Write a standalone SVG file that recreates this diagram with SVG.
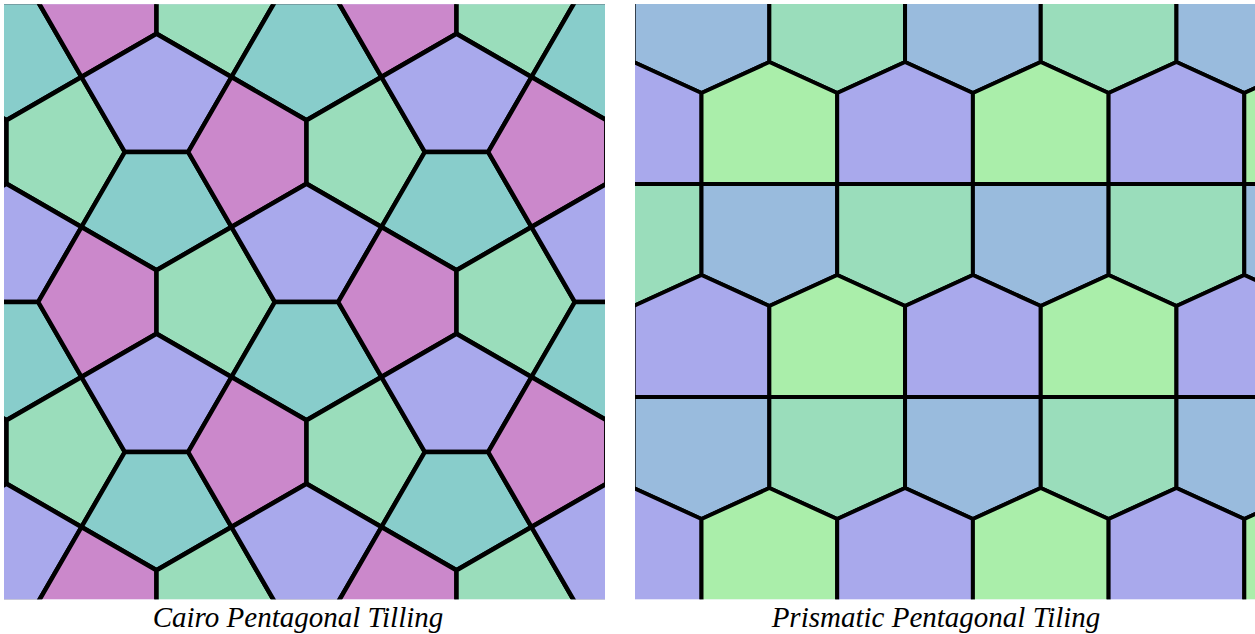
<svg xmlns="http://www.w3.org/2000/svg" xmlns:xlink="http://www.w3.org/1999/xlink" width="1255" height="634" viewBox="0 0 1255 634">
<style>
.t{stroke:#000;stroke-width:4.5;stroke-linejoin:round}
.p{stroke:#000;stroke-width:4;stroke-linejoin:round}
.lav{fill:#A9A9EC}.teal{fill:#88CDCB}.pink{fill:#CB88CB}.grn{fill:#9ADDBB}
.blu{fill:#99BBDD}.lgr{fill:#AAEEAA}
.cap{font-family:"Liberation Serif","Times New Roman",serif;font-style:italic;font-size:29px;fill:#000;text-anchor:middle}
</style>
<defs>
<clipPath id="clipL"><rect x="4" y="4.3" width="601" height="595"/></clipPath>
<clipPath id="clipR"><rect x="635" y="4" width="620" height="595.3"/></clipPath>
<polygon id="cLav" class="t lav" points="-31.7,0 31.7,0 75,-75 0,-118.3 -75,-75"/>
<polygon id="cTeal" class="t teal" points="-31.7,0 31.7,0 75,75 0,118.3 -75,75"/>
<polygon id="cPink" class="t pink" points="0,-31.7 0,31.7 -75,75 -118.3,0 -75,-75"/>
<polygon id="cGrn" class="t grn" points="0,-31.7 0,31.7 75,75 118.3,0 75,-75"/>
<polygon id="uBlu" class="p blu" points="0,0 135.7,0 135.7,91 67.85,122 0,91"/>
<polygon id="uGrn" class="p grn" points="0,0 135.7,0 135.7,91 67.85,122 0,91"/>
<polygon id="lLav" class="p lav" points="0,122 67.85,91 135.7,122 135.7,213 0,213"/>
<polygon id="lLgr" class="p lgr" points="0,122 67.85,91 135.7,122 135.7,213 0,213"/>
</defs>
<rect width="1255" height="634" fill="#fff"/>
<g id="cairo" clip-path="url(#clipL)">
<rect x="4" y="4.3" width="601" height="595" fill="#A9A9EC"/>
<!-- i=0 -->
<use xlink:href="#cLav" x="6.5" y="2"/><use xlink:href="#cTeal" x="6.5" y="2"/>
<use xlink:href="#cPink" x="6.5" y="152"/><use xlink:href="#cGrn" x="6.5" y="152"/>
<use xlink:href="#cLav" x="6.5" y="302"/><use xlink:href="#cTeal" x="6.5" y="302"/>
<use xlink:href="#cPink" x="6.5" y="452"/><use xlink:href="#cGrn" x="6.5" y="452"/>
<use xlink:href="#cLav" x="6.5" y="602"/><use xlink:href="#cTeal" x="6.5" y="602"/>
<!-- i=1 -->
<use xlink:href="#cPink" x="156.5" y="2"/><use xlink:href="#cGrn" x="156.5" y="2"/>
<use xlink:href="#cLav" x="156.5" y="152"/><use xlink:href="#cTeal" x="156.5" y="152"/>
<use xlink:href="#cPink" x="156.5" y="302"/><use xlink:href="#cGrn" x="156.5" y="302"/>
<use xlink:href="#cLav" x="156.5" y="452"/><use xlink:href="#cTeal" x="156.5" y="452"/>
<use xlink:href="#cPink" x="156.5" y="602"/><use xlink:href="#cGrn" x="156.5" y="602"/>
<!-- i=2 -->
<use xlink:href="#cLav" x="306.5" y="2"/><use xlink:href="#cTeal" x="306.5" y="2"/>
<use xlink:href="#cPink" x="306.5" y="152"/><use xlink:href="#cGrn" x="306.5" y="152"/>
<use xlink:href="#cLav" x="306.5" y="302"/><use xlink:href="#cTeal" x="306.5" y="302"/>
<use xlink:href="#cPink" x="306.5" y="452"/><use xlink:href="#cGrn" x="306.5" y="452"/>
<use xlink:href="#cLav" x="306.5" y="602"/><use xlink:href="#cTeal" x="306.5" y="602"/>
<!-- i=3 -->
<use xlink:href="#cPink" x="456.5" y="2"/><use xlink:href="#cGrn" x="456.5" y="2"/>
<use xlink:href="#cLav" x="456.5" y="152"/><use xlink:href="#cTeal" x="456.5" y="152"/>
<use xlink:href="#cPink" x="456.5" y="302"/><use xlink:href="#cGrn" x="456.5" y="302"/>
<use xlink:href="#cLav" x="456.5" y="452"/><use xlink:href="#cTeal" x="456.5" y="452"/>
<use xlink:href="#cPink" x="456.5" y="602"/><use xlink:href="#cGrn" x="456.5" y="602"/>
<!-- i=4 -->
<use xlink:href="#cLav" x="606.5" y="2"/><use xlink:href="#cTeal" x="606.5" y="2"/>
<use xlink:href="#cPink" x="606.5" y="152"/><use xlink:href="#cGrn" x="606.5" y="152"/>
<use xlink:href="#cLav" x="606.5" y="302"/><use xlink:href="#cTeal" x="606.5" y="302"/>
<use xlink:href="#cPink" x="606.5" y="452"/><use xlink:href="#cGrn" x="606.5" y="452"/>
<use xlink:href="#cLav" x="606.5" y="602"/><use xlink:href="#cTeal" x="606.5" y="602"/>
</g>
<g id="prismatic" clip-path="url(#clipR)">
<rect x="635" y="4" width="620" height="595.3" fill="#A9A9EC"/>
<!-- strip A, T=-29 -->
<use xlink:href="#uBlu" x="633.65" y="-29"/><use xlink:href="#uGrn" x="769.35" y="-29"/>
<use xlink:href="#uBlu" x="905.05" y="-29"/><use xlink:href="#uGrn" x="1040.75" y="-29"/>
<use xlink:href="#uBlu" x="1176.45" y="-29"/>
<use xlink:href="#lLav" x="565.8" y="-29"/><use xlink:href="#lLgr" x="701.5" y="-29"/>
<use xlink:href="#lLav" x="837.2" y="-29"/><use xlink:href="#lLgr" x="972.9" y="-29"/>
<use xlink:href="#lLav" x="1108.6" y="-29"/><use xlink:href="#lLgr" x="1244.3" y="-29"/>
<!-- strip B, T=184 -->
<use xlink:href="#uGrn" x="565.8" y="184"/><use xlink:href="#uBlu" x="701.5" y="184"/>
<use xlink:href="#uGrn" x="837.2" y="184"/><use xlink:href="#uBlu" x="972.9" y="184"/>
<use xlink:href="#uGrn" x="1108.6" y="184"/><use xlink:href="#uBlu" x="1244.3" y="184"/>
<use xlink:href="#lLav" x="633.65" y="184"/><use xlink:href="#lLgr" x="769.35" y="184"/>
<use xlink:href="#lLav" x="905.05" y="184"/><use xlink:href="#lLgr" x="1040.75" y="184"/>
<use xlink:href="#lLav" x="1176.45" y="184"/>
<!-- strip A2, T=397 -->
<use xlink:href="#uBlu" x="633.65" y="397"/><use xlink:href="#uGrn" x="769.35" y="397"/>
<use xlink:href="#uBlu" x="905.05" y="397"/><use xlink:href="#uGrn" x="1040.75" y="397"/>
<use xlink:href="#uBlu" x="1176.45" y="397"/>
<use xlink:href="#lLav" x="565.8" y="397"/><use xlink:href="#lLgr" x="701.5" y="397"/>
<use xlink:href="#lLav" x="837.2" y="397"/><use xlink:href="#lLgr" x="972.9" y="397"/>
<use xlink:href="#lLav" x="1108.6" y="397"/><use xlink:href="#lLgr" x="1244.3" y="397"/>
</g>
<text class="cap" x="298" y="626.5">Cairo Pentagonal Tilling</text>
<text class="cap" x="936" y="626.5">Prismatic Pentagonal Tiling</text>
</svg>
